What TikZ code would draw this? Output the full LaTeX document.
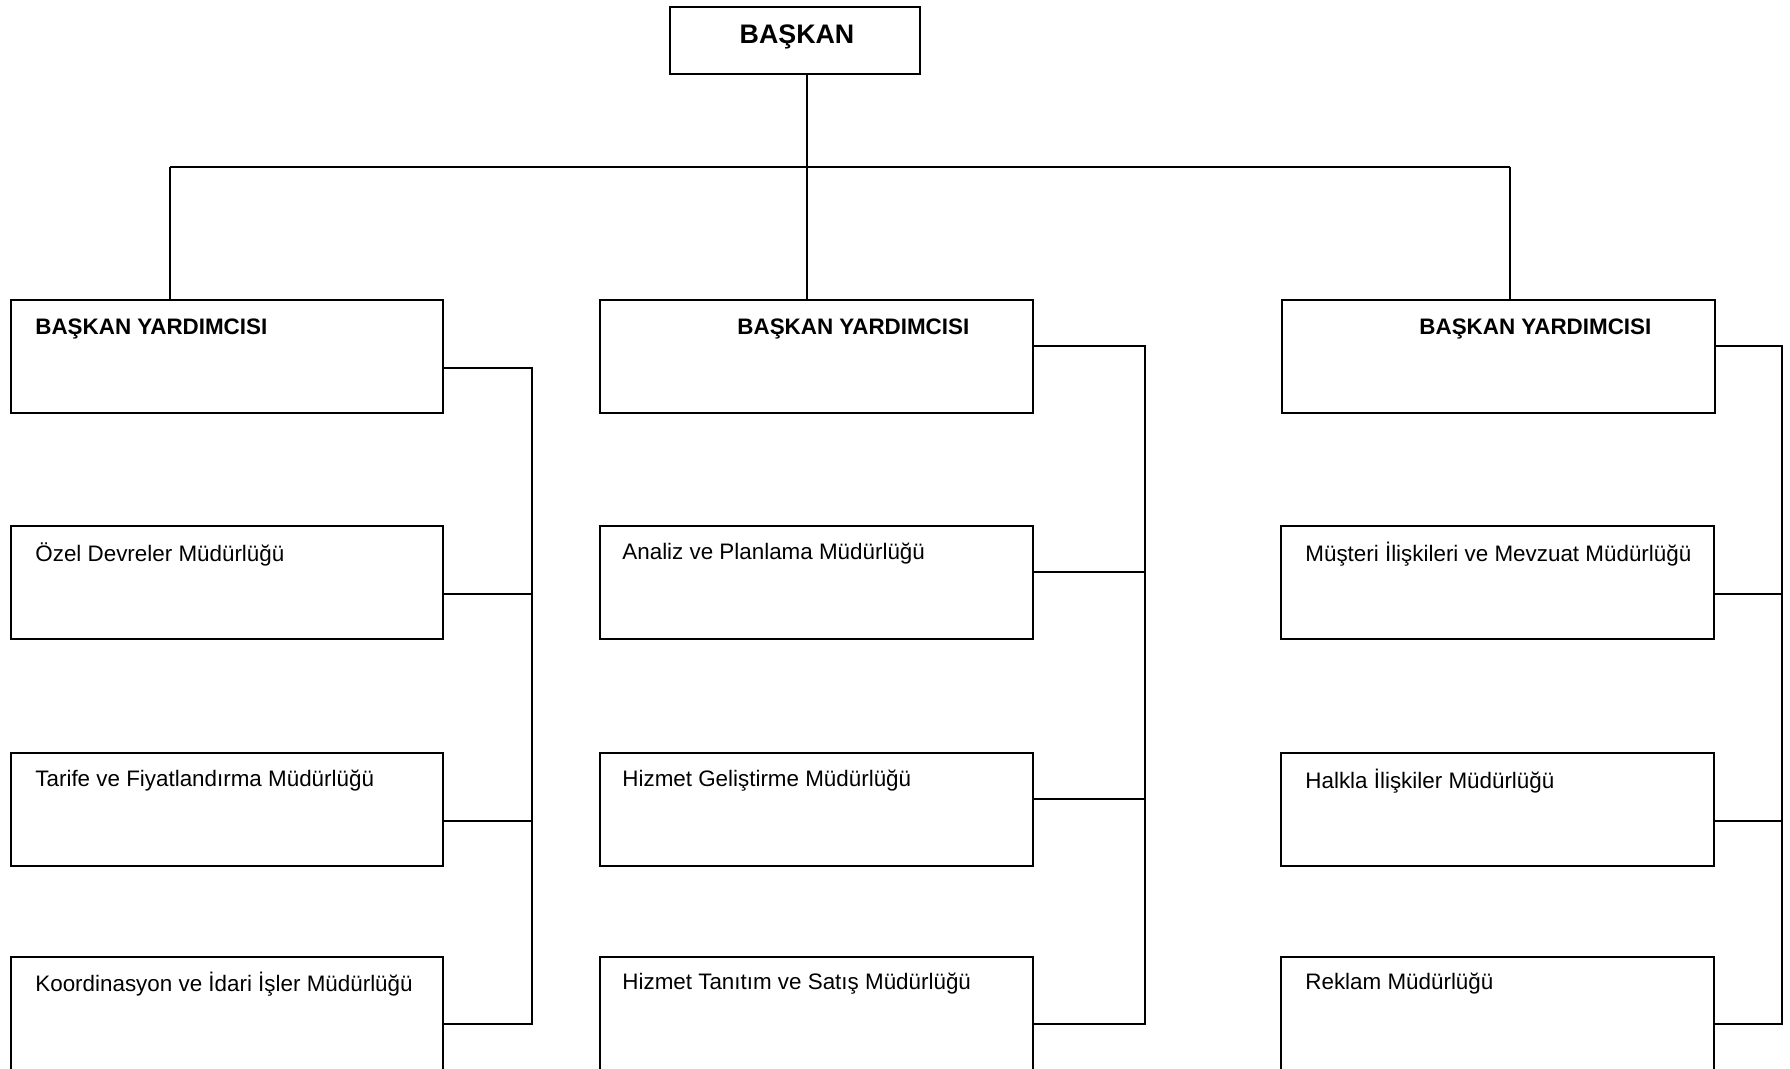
\documentclass[tikz,border=0pt]{standalone}
\usepackage{fontspec}
\setmainfont{Liberation Sans}
\usetikzlibrary{fit}
\begin{document}
\begin{tikzpicture}[x=0.5pt,y=-0.5pt,
  box/.style={draw, line width=1.4pt, rectangle, inner sep=0pt},
  lbl/.style={anchor=west, inner sep=0pt, font=\fontsize{11.2}{13}\selectfont},
  blbl/.style={lbl, font=\fontsize{11.2}{13}\selectfont\bfseries},
  conn/.style={line width=1.4pt}]
\useasboundingbox (0,0) rectangle (1790,1069);
% top
\node[box, fit={(670,7) (920,74)}] (top) {};
\node[font=\fontsize{13.4}{15}\selectfont\bfseries, inner sep=0pt] (toptxt) at (797,37) {BAŞKAN};
% level 1
\node[box, fit={(11,300) (443,413)}] (v1) {};
\node[box, fit={(600,300) (1033,413)}] (v2) {};
\node[box, fit={(1282,300) (1715,413)}] (v3) {};
\node[blbl] (v1t) at (35,329) {BAŞKAN YARDIMCISI};
\node[blbl] (v2t) at (737,329) {BAŞKAN YARDIMCISI};
\node[blbl] (v3t) at (1419,329) {BAŞKAN YARDIMCISI};
% column 1
\node[box, fit={(11,526) (443,639)}] (a1) {};
\node[box, fit={(11,753) (443,866)}] (a2) {};
\node[box, fit={(11,957) (443,1071)}] (a3) {};
\node[lbl] (a1t) at (35,554) {Özel Devreler Müdürlüğü};
\node[lbl] (a2t) at (35,781) {Tarife ve Fiyatlandırma Müdürlüğü};
\node[lbl] (a3t) at (35,984) {Koordinasyon ve İdari İşler Müdürlüğü};
% column 2
\node[box, fit={(600,526) (1033,639)}] (b1) {};
\node[box, fit={(600,753) (1033,866)}] (b2) {};
\node[box, fit={(600,957) (1033,1071)}] (b3) {};
\node[lbl] (b1t) at (622,554) {Analiz ve Planlama Müdürlüğü};
\node[lbl] (b2t) at (622,781) {Hizmet Geliştirme Müdürlüğü};
\node[lbl] (b3t) at (622,984) {Hizmet Tanıtım ve Satış Müdürlüğü};
% column 3
\node[box, fit={(1281,526) (1714,639)}] (c1) {};
\node[box, fit={(1281,753) (1714,866)}] (c2) {};
\node[box, fit={(1281,957) (1714,1071)}] (c3) {};
\node[lbl] (c1t) at (1305,554) {Müşteri İlişkileri ve Mevzuat Müdürlüğü};
\node[lbl] (c2t) at (1305,781) {Halkla İlişkiler Müdürlüğü};
\node[lbl] (c3t) at (1305,984) {Reklam Müdürlüğü};
% top tree
\coordinate (hl) at (170,167);
\coordinate (hm) at (807,167);
\coordinate (hr) at (1510,167);
\draw[conn] (hm |- top.south) -- (hm);
\draw[conn] (hl) -- (hr);
\draw[conn] (hl) -- (hl |- v1.north);
\draw[conn] (hm) -- (hm |- v2.north);
\draw[conn] (hr) -- (hr |- v3.north);
% column 1 bus
\coordinate (p0) at (532,368);
\coordinate (p1) at (532,594);
\coordinate (p2) at (532,821);
\coordinate (p3) at (532,1024);
\draw[conn] (p0 -| v1.east) -- (p0) -- (p3) -- (p3 -| a3.east);
\draw[conn] (p1 -| a1.east) -- (p1);
\draw[conn] (p2 -| a2.east) -- (p2);
% column 2 bus
\coordinate (q0) at (1145,346);
\coordinate (q1) at (1145,572);
\coordinate (q2) at (1145,799);
\coordinate (q3) at (1145,1024);
\draw[conn] (q0 -| v2.east) -- (q0) -- (q3) -- (q3 -| b3.east);
\draw[conn] (q1 -| b1.east) -- (q1);
\draw[conn] (q2 -| b2.east) -- (q2);
% column 3 bus
\coordinate (r0) at (1782,346);
\coordinate (r1) at (1782,594);
\coordinate (r2) at (1782,821);
\coordinate (r3) at (1782,1024);
\draw[conn] (r0 -| v3.east) -- (r0) -- (r3) -- (r3 -| c3.east);
\draw[conn] (r1 -| c1.east) -- (r1);
\draw[conn] (r2 -| c2.east) -- (r2);
\end{tikzpicture}
\end{document}
